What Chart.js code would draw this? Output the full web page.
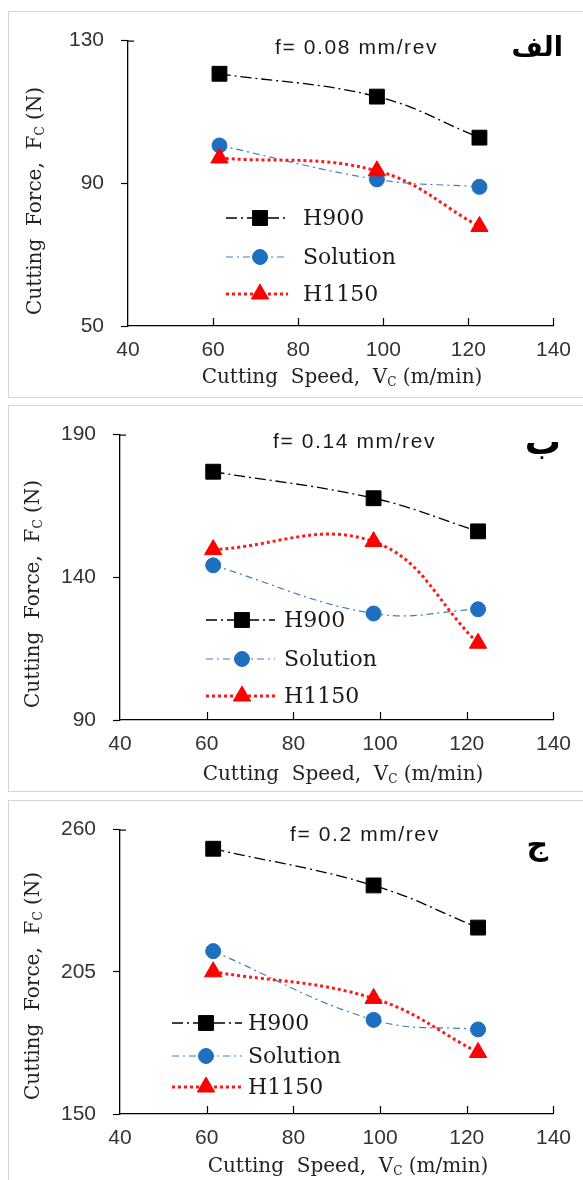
<!DOCTYPE html>
<html lang="en">
<head>
<meta charset="UTF-8">
<title>Cutting force vs cutting speed</title>
<script src="https://cdn.jsdelivr.net/npm/chart.js@4.4.1/dist/chart.umd.min.js"></script>
<style>
    body { margin: 0; background: #fff; }
    .wrap { position: relative; width: 583px; height: 1180px; overflow: hidden; }
    .panel { position: absolute; left: 8px; width: 620px; border: 1px solid #d4d4d4; box-sizing: border-box; }
    canvas { position: absolute; left: 0; }
</style>
</head>
<body>
<div class="wrap">
    <div class="panel" style="top:11px;height:387px"></div>
    <div class="panel" style="top:405px;height:387px"></div>
    <div class="panel" style="top:800px;height:400px"></div>
    <canvas id="c1" width="583" height="386" style="top:11px"></canvas>
    <canvas id="c2" width="583" height="386" style="top:405px"></canvas>
    <canvas id="c3" width="583" height="380" style="top:800px"></canvas>
</div>
<script>
    // cutting speed (m/min)
    const speeds = [61.5, 98.5, 122.6]

    // f = 0.08 mm/rev
    const h900A = [120.7, 114.3, 102.8]
    const solA = [100.6, 91.1, 89.0]
    const h1150A = [97.1, 93.5, 77.9]

    // f = 0.14 mm/rev
    const h900B = [177.0, 167.7, 156.1]
    const solB = [144.2, 127.3, 128.8]
    const h1150B = [149.7, 152.5, 116.9]

    // f = 0.2 mm/rev
    const h900C = [252.6, 238.4, 222.1]
    const solC = [213.0, 186.4, 182.7]
    const h1150C = [205.0, 194.7, 173.8]

    const seriesNames = ['H900', 'Solution', 'H1150']
    const feedLabels = ['f= 0.08 mm/rev', 'f= 0.14 mm/rev', 'f= 0.2 mm/rev']
    const panelTags = ['الف', 'ب', 'ج']
    const yMins = [50, 90, 150]
    const yMaxs = [130, 190, 260]
    const ySteps = [40, 50, 55]
    const xMin = 40, xMax = 140, xStep = 20

    const SANS = "'Liberation Sans', Arial, sans-serif"
    const SERIF = "'DejaVu Serif', serif"

    // look of each series
    const styles = [
        { color: '#000000', marker: '#000000', width: 1.3, dash: [11, 4, 2, 4], point: 'rect', radius: 10.5 },
        { color: '#3a7fc1', marker: '#1f6fc0', width: 1.2, dash: [7, 4, 2, 4], point: 'circle', radius: 7.5 },
        { color: '#ff1a1a', marker: '#ff0000', width: 3, dash: [3, 3], point: 'triangle', radius: 10 }
    ]

    // plot area / text placement per panel (canvas pixels)
    const layouts = [
        { left: 128, right: 558, top: 21, bottom: 315, feed: [275, 37], tag: [563, 38, 27],
          xTitle: [342, 367], yTitle: [36, 190], legend: { x1: 226, x2: 288, mx: 260, tx: 303, ys: [207, 246, 283] } },
        { left: 120, right: 556, top: 20, bottom: 315, feed: [273, 37], tag: [561, 40, 36],
          xTitle: [343, 370], yTitle: [34, 189], legend: { x1: 206, x2: 275, mx: 242, tx: 284, ys: [215, 254, 291] } },
        { left: 120, right: 556, top: 17, bottom: 314, feed: [290, 35], tag: [548, 47, 30],
          xTitle: [348, 367], yTitle: [34, 186], legend: { x1: 172, x2: 242, mx: 206, tx: 248, ys: [223, 256, 287] } }
    ]

    // text with a subscript letter: parts = [before, sub, after]
    function subText(ctx, parts, cx, cy, size) {
        ctx.font = size + 'px ' + SERIF
        let w1 = ctx.measureText(parts[0]).width
        let w3 = ctx.measureText(parts[2]).width
        ctx.font = Math.round(size * 0.62) + 'px ' + SERIF
        let w2 = ctx.measureText(parts[1]).width
        let x = cx - (w1 + w2 + w3) / 2
        ctx.textAlign = 'left'
        ctx.textBaseline = 'middle'
        ctx.font = size + 'px ' + SERIF
        ctx.fillText(parts[0], x, cy)
        ctx.font = Math.round(size * 0.62) + 'px ' + SERIF
        ctx.fillText(parts[1], x + w1, cy + size * 0.22)
        ctx.font = size + 'px ' + SERIF
        ctx.fillText(parts[2], x + w1 + w2, cy)
    }

    function makeChart(id, idx, sets) {
        const lay = layouts[idx]
        const canvas = document.getElementById(id)

        const decor = {
            id: 'decor',
            afterDraw(chart) {
                const ctx = chart.ctx
                const xs = chart.scales.x
                const area = chart.chartArea
                ctx.save()

                // inside tick marks on x axis
                ctx.strokeStyle = '#000'
                ctx.lineWidth = 1.2
                xs.ticks.forEach(t => {
                    if (t.value === xMin) return
                    const px = Math.round(xs.getPixelForValue(t.value)) + 0.5
                    ctx.beginPath()
                    ctx.moveTo(px, area.bottom)
                    ctx.lineTo(px, area.bottom - 8)
                    ctx.stroke()
                })
                // small stub at top of y axis
                ctx.beginPath()
                ctx.moveTo(area.left, area.top + 0.5)
                ctx.lineTo(area.left + 6, area.top + 0.5)
                ctx.stroke()

                ctx.fillStyle = '#222'
                // axis titles
                subText(ctx, ['Cutting  Speed,  V', 'C', ' (m/min)'], lay.xTitle[0], lay.xTitle[1], 20)
                ctx.save()
                ctx.translate(lay.yTitle[0], lay.yTitle[1])
                ctx.rotate(-Math.PI / 2)
                subText(ctx, ['Cutting  Force,  F', 'C', ' (N)'], 0, 0, 20)
                ctx.restore()

                // feed annotation and panel tag
                ctx.font = '21px ' + SANS
                ctx.textAlign = 'left'
                ctx.textBaseline = 'middle'
                ctx.fillStyle = '#1a1a1a'
                ctx.letterSpacing = '1.6px'
                ctx.fillText(feedLabels[idx], lay.feed[0], lay.feed[1])
                ctx.letterSpacing = '0px'
                ctx.font = 'bold ' + lay.tag[2] + "px 'DejaVu Sans', sans-serif"
                ctx.textAlign = 'right'
                ctx.fillStyle = '#000'
                ctx.fillText(panelTags[idx], lay.tag[0], lay.tag[1])

                // legend inside the plot
                const lg = lay.legend
                styles.forEach((s, i) => {
                    const y = lg.ys[i]
                    ctx.save()
                    ctx.strokeStyle = s.color
                    ctx.lineWidth = s.width
                    ctx.setLineDash(s.dash)
                    ctx.beginPath()
                    ctx.moveTo(lg.x1, y)
                    ctx.lineTo(lg.x2, y)
                    ctx.stroke()
                    ctx.restore()
                    ctx.save()
                    ctx.fillStyle = s.marker
                    ctx.strokeStyle = s.marker
                    ctx.lineWidth = 1
                    Chart.helpers.drawPoint(ctx, { pointStyle: s.point, radius: s.radius, rotation: 0, borderWidth: 1 }, lg.mx, y)
                    ctx.restore()
                    ctx.font = '22px ' + SERIF
                    ctx.fillStyle = '#1a1a1a'
                    ctx.textAlign = 'left'
                    ctx.textBaseline = 'middle'
                    ctx.fillText(seriesNames[i], lg.tx, y + 1)
                })
                ctx.restore()
            }
        }

        return new Chart(canvas.getContext('2d'), {
            type: 'line',
            data: {
                datasets: sets.map((vals, i) => ({
                    label: seriesNames[i],
                    data: speeds.map((v, j) => ({ x: v, y: vals[j] })),
                    borderColor: styles[i].color,
                    borderWidth: styles[i].width,
                    borderDash: styles[i].dash,
                    backgroundColor: styles[i].marker,
                    pointBackgroundColor: styles[i].marker,
                    pointBorderColor: styles[i].marker,
                    pointBorderWidth: 1,
                    pointStyle: styles[i].point,
                    pointRadius: styles[i].radius,
                    tension: 0.4,
                    fill: false,
                    order: 2 - i
                }))
            },
            options: {
                responsive: false,
                animation: false,
                events: [],
                layout: { padding: { left: 0, top: lay.top, right: canvas.width - lay.right, bottom: 0 } },
                plugins: { legend: { display: false }, tooltip: { enabled: false } },
                scales: {
                    x: {
                        type: 'linear',
                        min: xMin, max: xMax,
                        afterFit(scale) { scale.height = canvas.height - lay.bottom },
                        ticks: { stepSize: xStep, padding: 12, color: '#333', font: { family: SANS, size: 21 } },
                        grid: { drawOnChartArea: false, drawTicks: false },
                        border: { color: '#000', width: 1.3 }
                    },
                    y: {
                        min: yMins[idx], max: yMaxs[idx],
                        afterFit(scale) { scale.width = lay.left },
                        ticks: { stepSize: ySteps[idx], padding: 17, color: '#333', font: { family: SANS, size: 21 } },
                        grid: { drawOnChartArea: false, drawTicks: true, tickLength: 7, color: '#000', tickWidth: 1.2 },
                        border: { color: '#000', width: 1.3 }
                    }
                }
            },
            plugins: [decor]
        })
    }

    makeChart('c1', 0, [h900A, solA, h1150A])
    makeChart('c2', 1, [h900B, solB, h1150B])
    makeChart('c3', 2, [h900C, solC, h1150C])
</script>
</body>
</html>
